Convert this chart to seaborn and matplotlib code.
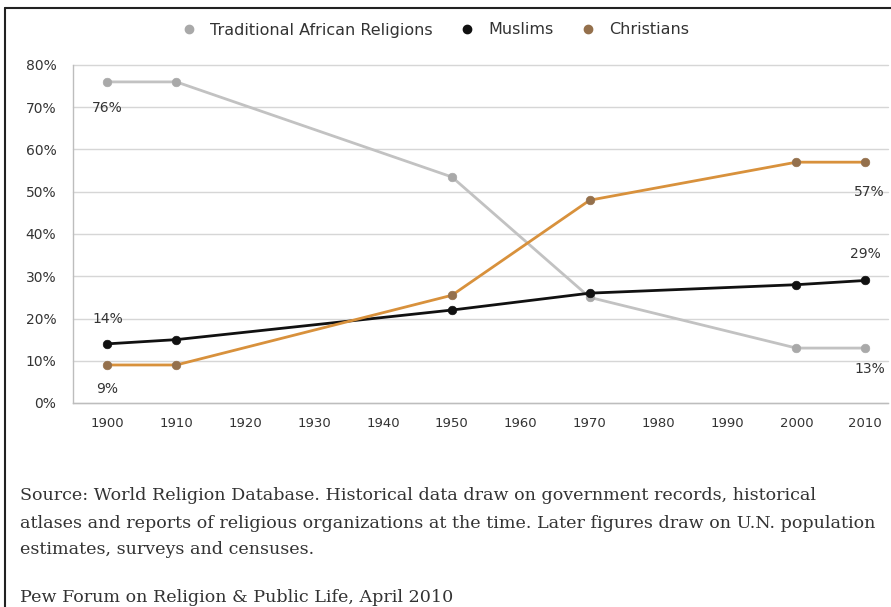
import matplotlib
matplotlib.use("Agg")
import matplotlib.pyplot as plt
from matplotlib.lines import Line2D
import seaborn as sns
import pandas as pd

years = [1900, 1910, 1950, 1970, 2000, 2010]
traditional = [76, 76, 53.5, 25, 13, 13]
muslims = [14, 15, 22, 26, 28, 29]
christians = [9, 9, 25.5, 48, 57, 57]
series_names = ["Traditional African Religions", "Muslims", "Christians"]
x_ticks = [1900, 1910, 1920, 1930, 1940, 1950, 1960, 1970, 1980, 1990, 2000, 2010]
y_ticks = [0, 10, 20, 30, 40, 50, 60, 70, 80]

line_colors = {"Traditional African Religions": "#c2c2c2",
               "Muslims": "#111111",
               "Christians": "#d8913c"}
marker_colors = {"Traditional African Religions": "#a9a9a9",
                 "Muslims": "#111111",
                 "Christians": "#94704c"}

df = pd.concat([
    pd.DataFrame({"year": years, "share": vals, "group": name})
    for name, vals in zip(series_names, [traditional, muslims, christians])
])

sns.set_theme(style="white")
plt.rcParams["font.family"] = ["DejaVu Sans"]

fig = plt.figure(figsize=(8.91, 6.07), dpi=100)
ax = fig.add_axes([73 / 891, 1 - 403 / 607, 815 / 891, 338 / 607])

sns.lineplot(data=df, x="year", y="share", hue="group", hue_order=series_names,
             palette=line_colors, linewidth=2, legend=False, ax=ax, zorder=3)
for name in series_names:
    sub = df[df["group"] == name]
    sns.scatterplot(x=sub["year"], y=sub["share"], color=marker_colors[name],
                    s=38, edgecolor=marker_colors[name], linewidth=0.5,
                    legend=False, ax=ax, zorder=4)

ax.set_xlim(1895, 2013.3)
ax.set_ylim(0, 80)
ax.set_xticks(x_ticks)
ax.set_xticklabels([str(t) for t in x_ticks], fontsize=9.5, color="#333333")
ax.set_yticks(y_ticks)
ax.set_yticklabels([f"{t}%" for t in y_ticks], fontsize=10, color="#333333")
ax.tick_params(axis="both", length=0, pad=10)
ax.tick_params(axis="y", pad=12)
ax.set_xlabel("")
ax.set_ylabel("")
ax.grid(axis="y", color="#d6d6d6", linewidth=1)
ax.set_axisbelow(True)
for s in ["top", "right"]:
    ax.spines[s].set_visible(False)
for s in ["left", "bottom"]:
    ax.spines[s].set_color("#bdbdbd")
    ax.spines[s].set_linewidth(1)
for gl in ax.get_ygridlines():
    gl.set_clip_on(False)

# value labels at first and last points
lab_kw = dict(fontsize=10, color="#333333", ha="center", textcoords="offset points")
ax.annotate(f"{traditional[0]:.0f}%", (years[0], traditional[0]), xytext=(0, -22), **lab_kw)
ax.annotate(f"{muslims[0]:.0f}%", (years[0], muslims[0]), xytext=(0, 15), **lab_kw)
ax.annotate(f"{christians[0]:.0f}%", (years[0], christians[0]), xytext=(0, -20), **lab_kw)
ax.annotate(f"{christians[-1]:.0f}%", (years[-1], christians[-1]), xytext=(3, -24), **lab_kw)
ax.annotate(f"{muslims[-1]:.0f}%", (years[-1], muslims[-1]), xytext=(0, 16), **lab_kw)
ax.annotate(f"{traditional[-1]:.0f}%", (years[-1], traditional[-1]), xytext=(3, -18), **lab_kw)

handles = [Line2D([], [], linestyle="none", marker="o", markersize=6,
                  color=marker_colors[n]) for n in series_names]
fig.legend(handles, series_names, loc="center", bbox_to_anchor=(431 / 891, 1 - 30 / 607),
           ncol=3, frameon=False, fontsize=11.5, handletextpad=0.3, columnspacing=1.2,
           labelcolor="#333333")

# source notes
serif = ["DejaVu Serif"]
note_kw = dict(family=serif, fontsize=12.6, color="#333333", va="center")
fig.text(20 / 891, 1 - 495 / 607,
         "Source: World Religion Database. Historical data draw on government records, historical",
         **note_kw)
fig.text(20 / 891, 1 - 523 / 607,
         "atlases and reports of religious organizations at the time. Later figures draw on U.N. population",
         **note_kw)
fig.text(20 / 891, 1 - 550 / 607, "estimates, surveys and censuses.", **note_kw)
fig.text(20 / 891, 1 - 597 / 607, "Pew Forum on Religion & Public Life, April 2010", **note_kw)

# outer frame
fig.add_artist(Line2D([5 / 891, 1], [1 - 8 / 607, 1 - 8 / 607], color="#222222", linewidth=1.5))
fig.add_artist(Line2D([5 / 891, 5 / 891], [0, 1 - 8 / 607], color="#222222", linewidth=1.5))

fig.savefig("out.png", dpi=100, facecolor="white")
